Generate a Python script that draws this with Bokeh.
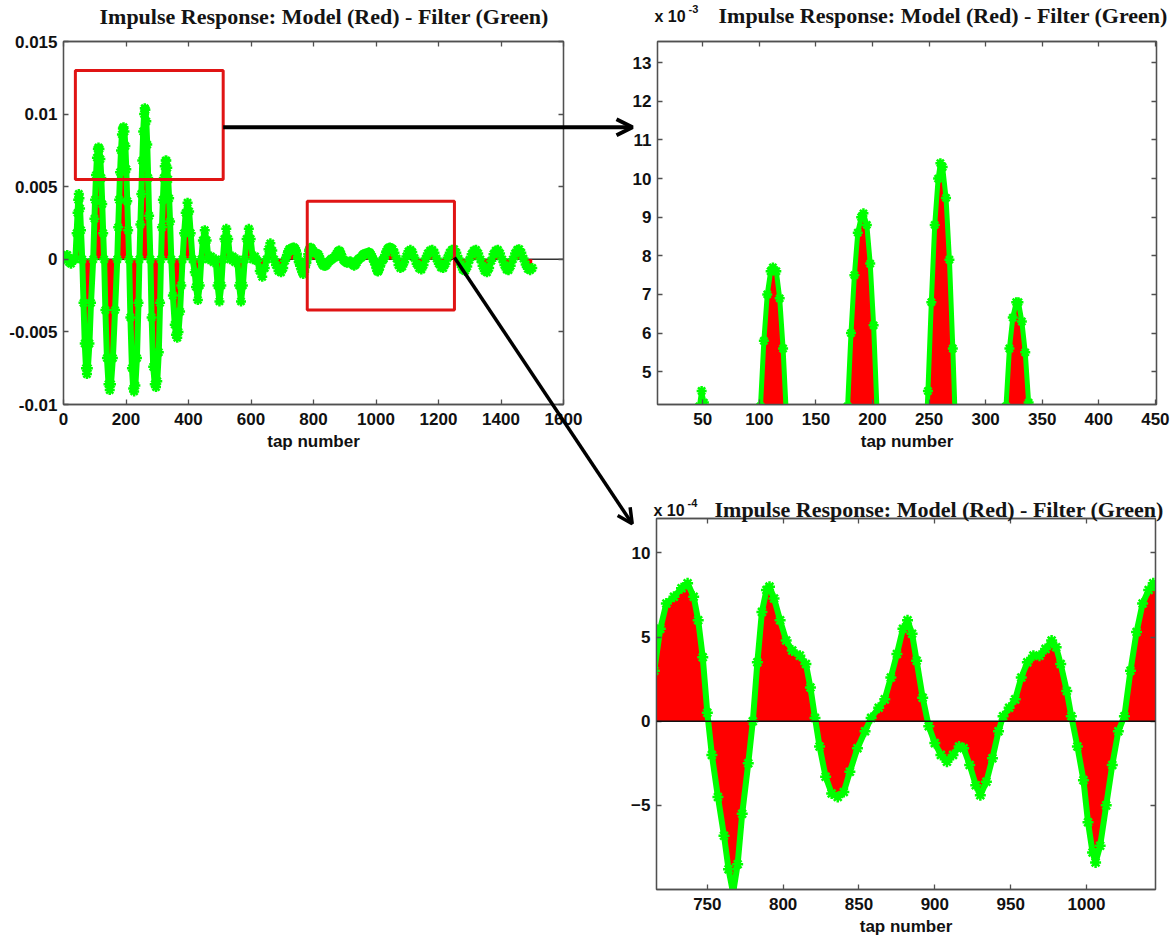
from bokeh.plotting import figure
from bokeh.models import (ColumnDataSource, Range1d, FixedTicker, LinearAxis, GridBox,
                          Span, Arrow, OpenHead, Label, BoxAnnotation)
from bokeh.embed import file_html
from bokeh.resources import INLINE

# ---------------- data (impulse response, values in units of 1e-4) ----------------
taps_early = [0, 6, 12, 18, 24, 31, 38,
              42, 45, 47, 49, 51, 53, 56, 60,
              64, 68, 72, 75, 78, 83, 88, 95,
              99, 101, 104, 107, 110, 112, 115, 118, 121, 124, 127, 130,
              134, 139, 144, 148, 152, 158, 165, 172,
              175, 178, 181, 184, 187, 190, 192, 195, 198, 201, 204, 207, 210,
              214, 219, 223, 226, 230, 235, 240, 243,
              246, 249, 252, 255, 258, 260, 262, 265, 268, 271, 274, 278,
              282, 287, 292, 296, 300, 305, 309, 312,
              315, 318, 321, 324, 327, 329, 332, 335, 338, 341, 345,
              350, 356, 360, 364, 368, 373, 377, 381,
              386, 391, 397, 402, 407, 413]
resp_early = [0, 2, 3, -2, -3, 0, 0,
              18, 32, 41, 45, 42, 35, 20, 0,
              -30, -58, -75, -79, -75, -58, -30, 0,
              28, 41, 58, 70, 76, 77, 76, 69, 56, 38, 18, 0,
              -35, -68, -86, -90, -86, -68, -35, 0,
              22, 41, 60, 75, 86, 90, 91, 88, 78, 62, 40, 20, 0,
              -40, -75, -89, -91, -87, -68, -30, 0,
              24, 45, 68, 88, 100, 104, 103, 95, 79, 56, 30, 0,
              -40, -74, -86, -88, -84, -64, -30, 0,
              22, 41, 56, 64, 68, 68, 63, 55, 42, 26, 0,
              -25, -45, -52, -54, -50, -36, -18, 0,
              18, 32, 39, 33, 18, 0]

taps_mid = [420, 424, 430, 436, 441, 446, 452, 458, 464, 472, 480,
            487, 493, 499, 505, 510, 515, 521, 527, 533, 541, 549,
            556, 562, 568, 574, 580, 586, 593, 599, 606, 613, 620,
            628, 636, 644, 650, 656, 662, 668, 674, 680, 688, 696, 703, 709, 712]
resp_mid = [-9, -19, -28, -18, 0, 13, 20, 13, 0, 2, -2,
            0, -18, -29, -18, 0, 14, 21, 14, 0, 2, -2,
            0, -18, -29, -18, 0, 14, 21, 14, 0, 2, -1,
            -8, -12, -6, 0, 7, 11, 6, 0, -4, -8, -9, -6, -1, 1]

taps_zoom = [715, 719, 723, 728, 733, 737, 741, 744, 747, 750, 753, 757, 761, 764, 767,
             770, 773, 777, 780, 783, 786, 789, 791, 794, 798, 802, 806, 811, 815, 818,
             821, 824, 828, 832, 836, 840, 844, 849, 854, 858, 863, 867, 871, 875, 879,
             882, 885, 888, 892, 896, 900, 904, 908, 912, 916, 919, 923, 927, 930, 934,
             938, 942, 945, 949, 953, 957, 961, 965, 969, 973, 977, 980, 983, 987, 990,
             994, 998, 1001, 1004, 1006, 1009, 1013, 1017, 1021, 1025, 1029, 1033, 1037,
             1041, 1044, 1048]
resp_zoom = [3.0, 5.5, 7.0, 7.4, 7.9, 8.2, 7.4, 6.0, 3.8, 0.5, -2.0, -4.5, -6.8, -8.8, -10.2,
             -8.5, -5.5, -2.5, 0.0, 3.5, 6.5, 7.8, 8.0, 7.3, 6.0, 4.8, 4.2, 3.9, 3.4, 2.0,
             0.2, -1.5, -3.3, -4.3, -4.5, -4.2, -3.0, -1.6, -0.6, 0.2, 0.8, 1.3, 2.6, 4.0, 5.5,
             6.0, 5.2, 3.6, 1.4, -0.3, -1.3, -2.0, -2.4, -2.0, -1.5, -1.6, -2.6, -3.8, -4.4, -3.6,
             -2.2, -0.6, 0.3, 0.8, 1.3, 2.6, 3.5, 3.9, 3.9, 4.3, 4.8, 4.4, 3.4, 1.8, 0.3,
             -1.5, -3.5, -6.0, -7.8, -8.4, -7.4, -5.0, -2.6, -0.6, 0.3, 3.0, 5.3, 7.0,
             7.8, 8.2, 7.8]

taps_tail = [1053, 1059, 1066, 1072, 1078, 1084, 1090, 1097, 1104, 1110, 1116, 1123, 1130, 1138,
             1145, 1152, 1159, 1166, 1173, 1180, 1187, 1194, 1201, 1208, 1215, 1222, 1229,
             1236, 1243, 1250, 1257, 1264, 1271, 1278, 1285, 1292, 1299, 1306, 1313, 1320,
             1327, 1334, 1341, 1348, 1355, 1362, 1369, 1376, 1383, 1390, 1397, 1404, 1411,
             1418, 1424, 1431, 1438, 1445, 1452, 1458, 1465, 1472, 1479, 1486, 1493, 1500]
resp_tail = [7.0, 4.5, 0.5, -4.0, -6.0, -5.0, -2.0, 2.0, 5.5, 6.5, 5.0, 1.0, -3.0, -6.0,
             -7.0, -4.0, 0.5, 4.0, 6.0, 6.5, 4.5, 0.5, -3.0, -5.5, -6.0, -3.0, 1.0,
             4.5, 6.5, 7.0, 4.5, 0.5, -3.5, -7.0, -8.0, -5.0, -0.5, 3.5, 6.0, 6.5,
             4.0, 0.0, -4.5, -8.0, -9.0, -6.0, -1.0, 3.5, 6.0, 6.5, 4.0, 0.0, -4.0,
             -7.0, -7.5, -4.5, 0.0, 4.0, 6.5, 7.0, 4.5, 0.5, -3.5, -6.5, -7.5, -6.0]

taps = taps_early + taps_mid + taps_zoom + taps_tail
model_e4 = resp_early + resp_mid + resp_zoom + resp_tail      # model (red stems)
filter_e4 = list(model_e4)                                     # adapted filter (green *)

# tick values / labels
main_xticks = [0, 200, 400, 600, 800, 1000, 1200, 1400, 1600]
main_yticks = [-0.01, -0.005, 0, 0.005, 0.01, 0.015]
main_ylabels = ["-0.01", "-0.005", "0", "0.005", "0.01", "0.015"]
top_xticks = [50, 100, 150, 200, 250, 300, 350, 400, 450]
top_yticks = [5, 6, 7, 8, 9, 10, 11, 12, 13]
bot_xticks = [750, 800, 850, 900, 950, 1000]
bot_yticks = [-5, 0, 5, 10]

# highlighted regions in the overview (data units)
box_early = dict(left=38, right=511, bottom=0.0055, top=0.013)
box_late = dict(left=780, right=1251, bottom=-0.0035, top=0.004)

TITLE = "Impulse Response: Model (Red) - Filter (Green)"
GREEN = "#00ff00"
RED = "#ff0000"
BOXRED = "#e01414"
FRAME = "#505050"
TICKFONT = "Liberation Sans"
INK = "#111111"

src = ColumnDataSource(dict(
    tap=taps,
    model_l=[v * 1e-4 for v in model_e4],
    filt_l=[v * 1e-4 for v in filter_e4],
    model_tr=[v * 0.1 for v in model_e4],
    filt_tr=[v * 0.1 for v in filter_e4],
    model_br=model_e4,
    filt_br=filter_e4,
))

# ---------------- geometry (page pixels) ----------------
PAGE_W, PAGE_H = 1172, 942
L_CANVAS = (0, 0, 600, 942)
L_FRAME = (63, 41, 563, 404)
L_RANGE = ((0, 1600), (-0.01, 0.015))
TR_CANVAS = (600, 0, 572, 465)
TR_FRAME = (657, 41, 1156, 404)
TR_RANGE = ((10, 451), (4.15, 13.55))
BR_CANVAS = (600, 465, 572, 477)
BR_FRAME = (656, 518, 1155, 889)
BR_RANGE = ((716.5, 1045.5), (-10.0, 12.05))


def data_to_page(frame, rng, x, y):
    fx0, fy0, fx1, fy1 = frame
    (x0, x1), (y0, y1) = rng
    px = fx0 + (x - x0) / (x1 - x0) * (fx1 - fx0)
    py = fy0 + (y1 - y) / (y1 - y0) * (fy1 - fy0)
    return px, py


def style_axis(ax, ticks, size="17px", standoff=7, hidden=False):
    ax.ticker = FixedTicker(ticks=ticks)
    ax.major_tick_in = 5
    ax.major_tick_out = 0
    ax.minor_tick_line_color = None
    ax.axis_line_color = FRAME
    ax.axis_line_width = 1.3
    ax.major_tick_line_color = FRAME
    ax.major_tick_line_width = 1.3
    if hidden:
        ax.major_label_text_font_size = "1px"
        ax.major_label_text_color = None
        ax.major_label_standoff = 0
    else:
        ax.major_label_text_font = TICKFONT
        ax.major_label_text_font_style = "bold"
        ax.major_label_text_font_size = size
        ax.major_label_text_color = INK
        ax.major_label_standoff = standoff


def make_panel(canvas, frame, rng, xticks, yticks, ylabels):
    cx, cy, cw, ch = canvas
    fx0, fy0, fx1, fy1 = frame
    (x0, x1), (y0, y1) = rng
    p = figure(width=cw, height=ch, x_range=Range1d(x0, x1), y_range=Range1d(y0, y1),
               toolbar_location=None, output_backend="svg", frame_align=False,
               min_border_left=fx0 - cx, min_border_right=cx + cw - fx1,
               min_border_top=fy0 - cy, min_border_bottom=cy + ch - fy1,
               x_axis_label="tap number", title=None)
    p.background_fill_color = "white"
    p.border_fill_color = "white"
    p.outline_line_color = FRAME
    p.outline_line_width = 1.3
    p.xgrid.grid_line_color = None
    p.ygrid.grid_line_color = None
    for ax in p.xaxis:
        style_axis(ax, xticks, standoff=8)
        ax.axis_label_text_font = TICKFONT
        ax.axis_label_text_font_style = "bold"
        ax.axis_label_text_font_size = "17px"
        ax.axis_label_text_color = INK
        ax.axis_label_standoff = 4
    for ax in p.yaxis:
        style_axis(ax, yticks, standoff=6)
        if ylabels is not None:
            ax.major_label_overrides = {t: s for t, s in zip(yticks, ylabels)}
    top_ax = LinearAxis()
    style_axis(top_ax, xticks, hidden=True)
    p.add_layout(top_ax, "above")
    right_ax = LinearAxis()
    style_axis(right_ax, yticks, hidden=True)
    p.add_layout(right_ax, "right")
    return p


def draw_response(p, ycol_model, ycol_filter, lw, msize):
    p.varea(x="tap", y1=0, y2=ycol_model, source=src, fill_color=RED)
    p.line(x="tap", y=ycol_filter, source=src, line_color=GREEN, line_width=lw)
    p.scatter(x="tap", y=ycol_filter, source=src, marker="asterisk", size=msize,
              line_color=GREEN, line_width=2.5)


# ---------------- overview panel ----------------
pl = make_panel(L_CANVAS, L_FRAME, L_RANGE, main_xticks, main_yticks, main_ylabels)
pl.add_layout(Span(location=0, dimension="width", line_color="#333333", line_width=1.5,
                   level="underlay"))
draw_response(pl, "model_l", "filt_l", 6, 10)
for b in (box_early, box_late):
    pl.add_layout(BoxAnnotation(fill_alpha=0, fill_color=None, line_color=BOXRED,
                                line_width=3, line_alpha=1, **b))

# ---------------- zoom on early taps ----------------
ptr = make_panel(TR_CANVAS, TR_FRAME, TR_RANGE, top_xticks, top_yticks, None)
draw_response(ptr, "model_tr", "filt_tr", 5, 10)

# ---------------- zoom on late taps ----------------
pbr = make_panel(BR_CANVAS, BR_FRAME, BR_RANGE, bot_xticks, bot_yticks, None)
pbr.varea(x="tap", y1=0, y2="model_br", source=src, fill_color=RED)
pbr.add_layout(Span(location=0, dimension="width", line_color="#111111", line_width=1.5))
pbr.line(x="tap", y="filt_br", source=src, line_color=GREEN, line_width=6)
pbr.scatter(x="tap", y="filt_br", source=src, marker="asterisk", size=11,
            line_color=GREEN, line_width=2.5)

# ---------------- transparent overlay in page pixels: titles, arrows, exponents ----------------
ov = figure(width=PAGE_W, height=PAGE_H, x_range=Range1d(0, PAGE_W), y_range=Range1d(PAGE_H, 0),
            toolbar_location=None, output_backend="svg", frame_align=False,
            x_axis_location=None, y_axis_location=None,
            min_border_left=0, min_border_right=0, min_border_top=0, min_border_bottom=0)
ov.grid.visible = False
ov.outline_line_color = None
ov.background_fill_color = None
ov.border_fill_color = None

# panel titles: (frame, left offset from frame, anchor height above frame top)
for frame, dx, lift in ((L_FRAME, 36, 25), (TR_FRAME, 61, 26), (BR_FRAME, 58, 9)):
    ov.add_layout(Label(x=frame[0] + dx, y=frame[1] - lift, text=TITLE,
                        text_font="Liberation Serif", text_font_style="bold",
                        text_font_size="22px", text_color="#141414",
                        text_baseline="alphabetic", text_align="left"))

a1_start = data_to_page(L_FRAME, L_RANGE, box_early["right"], 0.0091)
a1_end = (632.0, a1_start[1])
a2_start = data_to_page(L_FRAME, L_RANGE, box_late["right"], 0.00013)
a2_end = (631.7, 523.3)
ov.add_layout(Arrow(end=OpenHead(size=16, line_width=4, line_color="black"),
                    x_start=a1_start[0], y_start=a1_start[1], x_end=a1_end[0], y_end=a1_end[1],
                    line_color="black", line_width=4))
ov.add_layout(Arrow(end=OpenHead(size=15, line_width=3.5, line_color="black"),
                    x_start=a2_start[0], y_start=a2_start[1], x_end=a2_end[0], y_end=a2_end[1],
                    line_color="black", line_width=3.5))

# exponent labels: (frame, exponent text, anchor height above the frame top)
for frame, exponent, lift in ((TR_FRAME, "-3", 25), (BR_FRAME, "-4", 8)):
    fx0, fy0 = frame[0], frame[1]
    ov.add_layout(Label(x=fx0 - 3, y=fy0 - lift, text="x 10",
                        text_font=TICKFONT, text_font_style="bold", text_font_size="16px",
                        text_color=INK, text_baseline="alphabetic", text_align="left"))
    ov.add_layout(Label(x=fx0 + 31, y=fy0 - lift - 8, text=exponent,
                        text_font=TICKFONT, text_font_style="bold", text_font_size="11px",
                        text_color=INK, text_baseline="alphabetic", text_align="left"))

grid = GridBox(children=[(pl, 0, 0, 2, 1), (ptr, 0, 1), (pbr, 1, 1), (ov, 0, 0, 2, 2)],
               rows=["465px", "477px"], cols=["600px", "572px"], spacing=0)
open("out.html", "w").write(file_html(grid, INLINE))
